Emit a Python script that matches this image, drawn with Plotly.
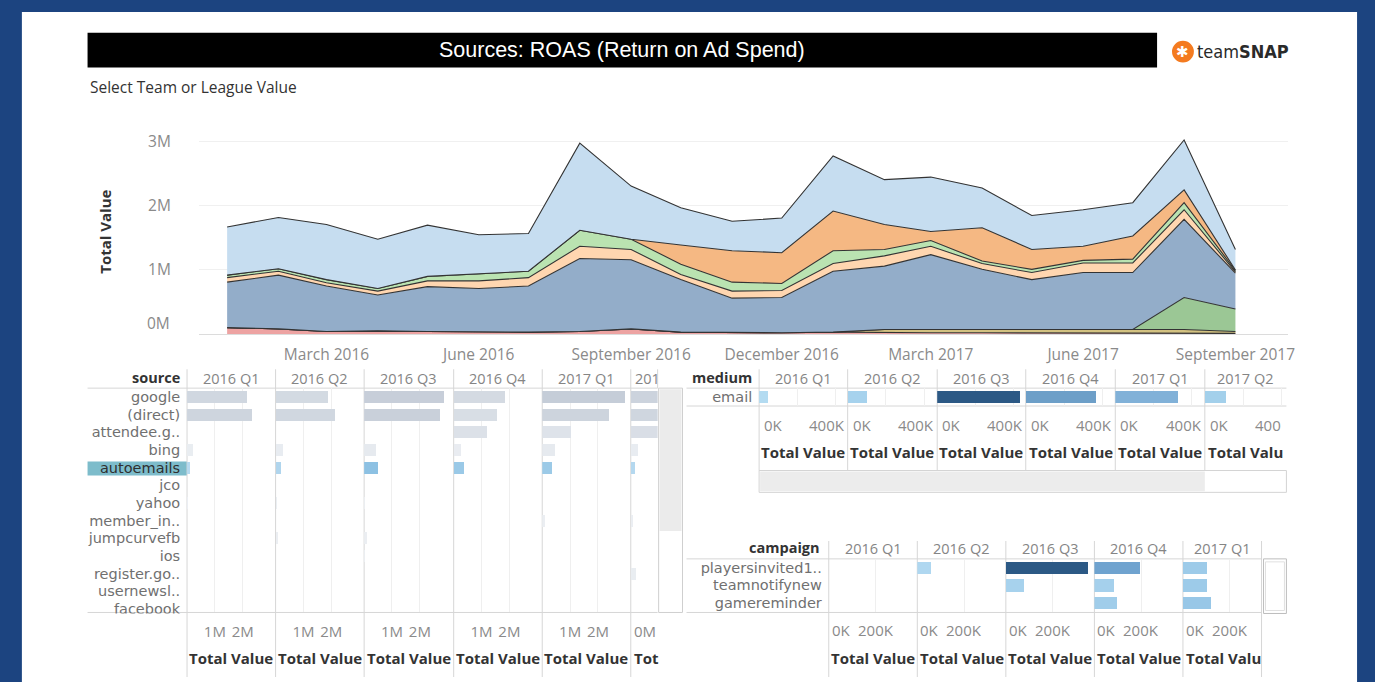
import plotly.graph_objects as go

W, H = 1375, 682
FONT = "Open Sans, Lato, DejaVu Sans, sans-serif"
LFONT = "DejaVu Sans, Open Sans, sans-serif"

def fx(px):
    return px / W

def fy(py):
    return 1 - py / H

# ---------------- main area chart data (values in millions) ----------------
months = ["2016-01-01", "2016-02-01", "2016-03-01", "2016-04-01", "2016-05-01", "2016-06-01",
          "2016-07-01", "2016-08-01", "2016-09-01", "2016-10-01", "2016-11-01", "2016-12-01",
          "2017-01-01", "2017-02-01", "2017-03-01", "2017-04-01", "2017-05-01", "2017-06-01",
          "2017-07-01", "2017-08-01", "2017-09-01"]
val_pink = [0.10, 0.08, 0.04, 0.05, 0.04, 0.03, 0.03, 0.04, 0.08, 0.03, 0.02, 0.02, 0.03,
            0.02, 0.02, 0.02, 0.02, 0.02, 0.02, 0.01, 0.01]
val_olive = [0, 0, 0, 0, 0, 0, 0, 0, 0, 0, 0, 0, 0,
             0.05, 0.05, 0.05, 0.04, 0.04, 0.04, 0.06, 0.03]
val_green = [0, 0, 0, 0, 0, 0, 0, 0, 0, 0, 0, 0, 0,
             0, 0, 0, 0, 0, 0.01, 0.50, 0.35]
val_steel = [0.71, 0.84, 0.71, 0.56, 0.70, 0.68, 0.72, 1.14, 1.08, 0.82, 0.54, 0.55, 0.95,
             0.99, 1.17, 0.94, 0.79, 0.90, 0.89, 1.22, 0.56]
val_peach = [0.07, 0.06, 0.05, 0.06, 0.09, 0.12, 0.13, 0.19, 0.16, 0.08, 0.11, 0.11, 0.12,
             0.16, 0.13, 0.09, 0.11, 0.15, 0.15, 0.15, 0.02]
val_lgreen = [0.04, 0.04, 0.05, 0.04, 0.07, 0.11, 0.10, 0.25, 0.16, 0.16, 0.14, 0.11, 0.20,
              0.10, 0.09, 0.04, 0.05, 0.04, 0.06, 0.11, 0.02]
val_orange = [0, 0, 0, 0, 0, 0, 0, 0, 0, 0.30, 0.49, 0.48, 0.62,
              0.39, 0.14, 0.52, 0.31, 0.22, 0.36, 0.20, 0.01]
val_lblue = [0.75, 0.80, 0.86, 0.77, 0.80, 0.61, 0.59, 1.36, 0.83, 0.58, 0.46, 0.54, 0.86,
             0.70, 0.85, 0.62, 0.53, 0.57, 0.52, 0.78, 0.32]

date_ticks = ["2016-03-01", "2016-06-01", "2016-09-01", "2016-12-01",
              "2017-03-01", "2017-06-01", "2017-09-01"]
date_labels = ["March 2016", "June 2016", "September 2016", "December 2016",
               "March 2017", "June 2017", "September 2017"]

# ---------------- source panel data (millions) ----------------
sources = ["google", "(direct)", "attendee.g..", "bing", "autoemails", "jco", "yahoo",
           "member_in..", "jumpcurvefb", "ios", "register.go..", "usernewsl..", "facebook"]
src_quarters = ["2016 Q1", "2016 Q2", "2016 Q3", "2016 Q4", "2017 Q1", "201"]
src_2016q1 = [2.16, 2.32, 0, 0.20, 0.12, 0, 0.05, 0, 0, 0, 0, 0, 0]
src_2016q2 = [1.89, 2.13, 0, 0.27, 0.18, 0, 0.04, 0, 0.10, 0, 0, 0, 0]
src_2016q3 = [2.87, 2.73, 0, 0.44, 0.50, 0, 0.03, 0, 0.10, 0.03, 0, 0, 0]
src_2016q4 = [1.86, 1.54, 1.20, 0.26, 0.38, 0, 0, 0, 0, 0, 0, 0, 0]
src_2017q1 = [2.98, 2.39, 1.05, 0.45, 0.36, 0, 0, 0.10, 0, 0, 0, 0, 0]
src_2017q2 = [2.50, 2.20, 1.50, 0.27, 0.14, 0, 0, 0.08, 0, 0, 0.20, 0, 0]
src_values = [src_2016q1, src_2016q2, src_2016q3, src_2016q4, src_2017q1, src_2017q2]
selected_source = "autoemails"

# ---------------- medium panel data (thousands) ----------------
mediums = ["email"]
med_quarters = ["2016 Q1", "2016 Q2", "2016 Q3", "2016 Q4", "2017 Q1", "2017 Q2"]
med_email = [49, 101, 431, 366, 325, 113]

# ---------------- campaign panel data (thousands) ----------------
campaigns = ["playersinvited1..", "teamnotifynew", "gamereminder"]
camp_quarters = ["2016 Q1", "2016 Q2", "2016 Q3", "2016 Q4", "2017 Q1"]
camp_players = [0, 57, 353, 196, 104]
camp_team = [0, 0, 77, 83, 104]
camp_game = [0, 0, 0, 96, 118]

# ---------------- helpers ----------------
shapes = []
annotations = []
layout_axes = {}
fig = go.Figure()

LBL = 14.5    # row label size
HDR = 14.5    # quarter header size
TV = 15       # "Total Value" size
TICK = 15


def rect(x0, y0, x1, y1, fill=None, line=None, lw=1, layer="below"):
    shapes.append(dict(type="rect", xref="paper", yref="paper",
                       x0=fx(x0), x1=fx(x1), y0=fy(y1), y1=fy(y0),
                       fillcolor=fill if fill else "rgba(0,0,0,0)",
                       line=dict(color=line if line else "rgba(0,0,0,0)", width=lw if line else 0),
                       layer=layer))


def hline(x0, x1, y, color="#d6d6d6"):
    shapes.append(dict(type="line", xref="paper", yref="paper", x0=fx(x0), x1=fx(x1),
                       y0=fy(y), y1=fy(y), line=dict(color=color, width=1), layer="below"))


def vline(x, y0, y1, color="#d6d6d6"):
    shapes.append(dict(type="line", xref="paper", yref="paper", x0=fx(x), x1=fx(x),
                       y0=fy(y0), y1=fy(y1), line=dict(color=color, width=1), layer="below"))


def text(x, y, s, size=15, color="#777777", anchor="center", family=FONT, angle=0):
    annotations.append(dict(xref="paper", yref="paper", x=fx(x), y=fy(y), text=s,
                            showarrow=False, xanchor=anchor, yanchor="middle", textangle=angle,
                            font=dict(size=size, color=color, family=family)))


# ---------------- background / header ----------------
rect(22, 12, 1364, 690, fill="white")
rect(88, 33, 1163, 68, fill="black")
text(625, 50, "Sources: ROAS (Return on Ad Spend)", size=21.5, color="white",
     family="Liberation Sans, Arial, sans-serif")
shapes.append(dict(type="circle", xref="paper", yref="paper", x0=fx(1178), x1=fx(1200),
                   y0=fy(63), y1=fy(41), fillcolor="#f47b20", line=dict(width=0), layer="above"))
text(1189, 52, "<b>✱</b>", size=15, color="white", family="DejaVu Sans")
text(1201, 52, "team<b>SNAP</b>", size=18, color="#2a2a2a", anchor="left",
     family="DejaVu Sans Condensed, Liberation Sans Narrow, Liberation Sans, sans-serif")
text(88, 88, "Select Team or League Value", size=15.5, color="#333333", anchor="left")

# ---------------- main area chart ----------------
area_layers = [
    ("jumpcurvefb", val_pink, "#eda3a2"),
    ("register.go..", val_olive, "#d3c281"),
    ("member_in..", val_green, "#9bc795"),
    ("(direct)", val_steel, "#93adc9"),
    ("bing", val_peach, "#ffd6b0"),
    ("autoemails", val_lgreen, "#bae3b1"),
    ("attendee.g..", val_orange, "#f5b883"),
    ("google", val_lblue, "#c6ddf0"),
]
for name, vals, col in area_layers:
    fig.add_trace(go.Scatter(x=months, y=vals, name=name, stackgroup="one", mode="lines",
                             line=dict(color="#333333", width=1.1), fillcolor=col,
                             xaxis="x", yaxis="y", showlegend=False))

layout_axes["xaxis"] = dict(domain=[fx(200), fx(1295)], anchor="y", type="date",
                            range=["2015-12-15", "2017-10-03"], tickmode="array",
                            tickvals=date_ticks, ticktext=date_labels, showgrid=False,
                            ticks="outside", ticklen=6, tickcolor="rgba(0,0,0,0)",
                            tickfont=dict(size=15.5, color="#8a8a8a", family=FONT),
                            showline=True, linecolor="#dcdcdc", zeroline=False)
layout_axes["yaxis"] = dict(domain=[fy(336.5), fy(130)], anchor="x", range=[0, 3.2],
                            tickmode="array", tickvals=[1, 2, 3], ticktext=["1M", "2M", "3M"],
                            showgrid=True, gridcolor="#f0f0f0", zeroline=False,
                            ticks="outside", ticklen=24, tickcolor="rgba(0,0,0,0)",
                            tickfont=dict(size=15.5, color="#8a8a8a", family=FONT))
annotations.append(dict(xref="paper", yref="y", x=fx(173), y=0, yshift=11, text="0M",
                        showarrow=False, xanchor="right", yanchor="middle",
                        font=dict(size=15.5, color="#8a8a8a", family=FONT)))
text(106, 233, "<b>Total Value</b>", size=15, color="#333333", angle=-90)

# ---------------- source panel ----------------
SRC_TOP, SRC_HEAD, SRC_BOT = 372, 391, 617
src_edges = [188, 277, 366, 456, 545, 634, 661]
SRC_PX_PER_M = 28.0
row_h = 17.8
rect(88, 465, 188, 479, fill="#7dbccb")
layout_axes["yaxis2"] = dict(domain=[fy(SRC_BOT), fy(SRC_HEAD)], anchor="x2", type="category",
                             categoryorder="array", categoryarray=sources,
                             range=[(SRC_BOT - SRC_HEAD) / row_h - 0.5, -0.5],
                             tickmode="array", tickvals=sources,
                             ticktext=[('<span style="color:#2f2f2f">%s</span>' % s) if s == selected_source else s
                                       for s in sources],
                             ticks="outside", ticklen=3, tickcolor="rgba(0,0,0,0)",
                             tickfont=dict(size=LBL, color="#707070", family=LFONT),
                             showgrid=False, zeroline=False, showline=False)
for k in range(6):
    xid = 2 + k
    x0, x1 = src_edges[k], src_edges[k + 1]
    vals = src_values[k]
    others_y = [s for s in sources if s != selected_source]
    others_x = [v for s, v in zip(sources, vals) if s != selected_source]
    sel_x = [v for s, v in zip(sources, vals) if s == selected_source]
    fig.add_trace(go.Bar(orientation="h", y=others_y, x=others_x, width=0.68,
                         marker=dict(color=others_x, cmin=0, cmax=3,
                                     colorscale=[[0, "#eceff3"], [1, "#c5cdd8"]], line=dict(width=0)),
                         xaxis="x%d" % xid, yaxis="y2", showlegend=False))
    fig.add_trace(go.Bar(orientation="h", y=[selected_source], x=sel_x, width=0.68,
                         marker=dict(color=sel_x, cmin=0, cmax=0.5,
                                     colorscale=[[0, "#c3e1f3"], [1, "#8dc1e3"]], line=dict(width=0)),
                         xaxis="x%d" % xid, yaxis="y2", showlegend=False))
    last = (k == 5)
    layout_axes["xaxis%d" % xid] = dict(domain=[fx(x0), fx(x1)], anchor="y2",
                                        range=[0, (x1 - x0) / SRC_PX_PER_M],
                                        tickmode="array", tickvals=[] if last else [1, 2],
                                        ticktext=[] if last else ["1M", "2M"],
                                        showgrid=True, gridcolor="#efefef", zeroline=False,
                                        ticks="outside", ticklen=6, tickcolor="rgba(0,0,0,0)",
                                        tickfont=dict(size=TICK, color="#8a8a8a", family=FONT))
    if last:
        text(x0 + 2, 381, src_quarters[k], size=HDR, color="#858585", anchor="left")
        text(x0 + 1, 636, "0M", size=TICK, color="#8a8a8a", anchor="left")
        text(x0 + 1, 663, "<b>Tot</b>", size=TV, color="#333333", anchor="left")
    else:
        text((x0 + x1) / 2, 381, src_quarters[k], size=HDR, color="#858585")
        text((x0 + x1) / 2, 663, "<b>Total Value</b>", size=TV, color="#333333")
    vline(x0, SRC_TOP, 682)
vline(661, SRC_TOP, SRC_HEAD)
hline(88, 661, SRC_HEAD)
hline(88, 661, SRC_BOT)
text(183, 380, "<b>source</b>", size=14.5, color="#333333", anchor="right")
# mask to clip the last row label like the reference
rect(86, 618, 187, 628, fill="white", layer="above")
# scrollbar
rect(662, 391, 686, 617, fill="white", line="#cfcfcf")
rect(663, 392, 685, 535, fill="#ebebeb")

# ---------------- medium panel ----------------
MED_TOP, MED_HEAD, MED_BOT = 372, 391, 409
med_edges = [763, 852, 942, 1031, 1121, 1211, 1293]
MED_PX_PER_K = 0.1925
layout_axes["yaxis3"] = dict(domain=[fy(MED_BOT), fy(MED_HEAD)], anchor="x8", type="category",
                             categoryorder="array", categoryarray=mediums, range=[0.5, -0.5],
                             tickmode="array", tickvals=mediums,
                             ticks="outside", ticklen=3, tickcolor="rgba(0,0,0,0)",
                             tickfont=dict(size=LBL, color="#707070", family=LFONT),
                             showgrid=False, zeroline=False)
for k in range(6):
    xid = 8 + k
    x0, x1 = med_edges[k], med_edges[k + 1]
    fig.add_trace(go.Bar(orientation="h", y=mediums, x=[med_email[k]], width=0.7,
                         marker=dict(color=[med_email[k]], cmin=40, cmax=431,
                                     colorscale=[[0, "#b5dcf2"], [0.2, "#a2cfeb"], [0.7, "#86b6dc"],
                                                 [0.85, "#6a9cc6"], [1, "#2c5985"]],
                                     line=dict(width=0)),
                         xaxis="x%d" % xid, yaxis="y3", showlegend=False))
    layout_axes["xaxis%d" % xid] = dict(domain=[fx(x0), fx(x1)], anchor="y3",
                                        range=[0, (x1 - x0) / MED_PX_PER_K],
                                        tickmode="array", tickvals=[200, 400], showticklabels=False,
                                        showgrid=True, gridcolor="#efefef", zeroline=False)
    text(x0 + 3, 428, "0K", size=TICK, color="#8a8a8a", anchor="left")
    if k == 5:
        text(x0 + 48, 428, "400", size=TICK, color="#8a8a8a", anchor="left")
        text(x0 + 1, 455, "<b>Total Valu</b>", size=TV, color="#333333", anchor="left")
    else:
        text(x1 - 1, 428, "400K", size=TICK, color="#8a8a8a", anchor="right")
        text((x0 + x1) / 2, 455, "<b>Total Value</b>", size=TV, color="#333333")
    text((x0 + x1) / 2, 381, med_quarters[k], size=HDR, color="#858585")
    vline(x0, MED_TOP, 474)
hline(690, 1293, MED_HEAD)
hline(690, 1293, MED_BOT)
text(758, 380, "<b>medium</b>", size=14.5, color="#333333", anchor="right")
rect(763, 474, 1293, 496, fill="white", line="#d4d4d4")
rect(764, 475, 1211, 495, fill="#ececec")

# ---------------- campaign panel ----------------
CMP_TOP, CMP_HEAD, CMP_BOT = 545, 563, 617
cmp_edges = [833, 922, 1011, 1100, 1189, 1268]
CMP_PX_PER_K = 0.235
layout_axes["yaxis4"] = dict(domain=[fy(CMP_BOT), fy(CMP_HEAD)], anchor="x14", type="category",
                             categoryorder="array", categoryarray=campaigns,
                             range=[(CMP_BOT - CMP_HEAD) / row_h - 0.5, -0.5],
                             tickmode="array", tickvals=campaigns,
                             ticks="outside", ticklen=3, tickcolor="rgba(0,0,0,0)",
                             tickfont=dict(size=LBL, color="#707070", family=LFONT),
                             showgrid=False, zeroline=False)
for k in range(5):
    xid = 14 + k
    x0, x1 = cmp_edges[k], cmp_edges[k + 1]
    vals = [camp_players[k], camp_team[k], camp_game[k]]
    fig.add_trace(go.Bar(orientation="h", y=campaigns, x=vals, width=0.7,
                         marker=dict(color=vals, cmin=40, cmax=353,
                                     colorscale=[[0, "#b5dcf2"], [0.25, "#98c7e7"], [0.5, "#6fa3cf"],
                                                 [1, "#2c5985"]],
                                     line=dict(width=0)),
                         xaxis="x%d" % xid, yaxis="y4", showlegend=False))
    layout_axes["xaxis%d" % xid] = dict(domain=[fx(x0), fx(x1)], anchor="y4",
                                        range=[0, (x1 - x0) / CMP_PX_PER_K],
                                        tickmode="array", tickvals=[200], showticklabels=False,
                                        showgrid=True, gridcolor="#efefef", zeroline=False)
    annotations.append(dict(xref="x%d" % xid, yref="paper", x=0, y=fy(635), text="0K",
                            showarrow=False, xanchor="left", yanchor="middle", xshift=1,
                            font=dict(size=TICK, color="#8a8a8a", family=FONT)))
    annotations.append(dict(xref="x%d" % xid, yref="paper", x=200, y=fy(635), text="200K",
                            showarrow=False, xanchor="center", yanchor="middle",
                            font=dict(size=TICK, color="#8a8a8a", family=FONT)))
    if k == 4:
        text(x0 + 1, 663, "<b>Total Valu</b>", size=TV, color="#333333", anchor="left")
    else:
        text((x0 + x1) / 2, 663, "<b>Total Value</b>", size=TV, color="#333333")
    text((x0 + x1) / 2, 553, camp_quarters[k], size=HDR, color="#858585")
    vline(x0, CMP_TOP, 682)
vline(1268, CMP_TOP, 682)
hline(690, 1268, CMP_HEAD)
hline(690, 1268, CMP_BOT)
text(826, 552, "<b>campaign</b>", size=14.5, color="#333333", anchor="right")
rect(1270, 563, 1293, 618, fill="white", line="#bdbdbd")
rect(1272, 566, 1291, 615, fill="white", line="#e0e0e0")

fig.update_layout(
    width=W, height=H, margin=dict(l=0, r=0, t=0, b=0),
    paper_bgcolor="#1c4480", plot_bgcolor="rgba(0,0,0,0)",
    showlegend=False, bargap=0, shapes=shapes, annotations=annotations,
    font=dict(family=FONT), hovermode=False,
    **layout_axes,
)
fig.write_html("out.html", config={"displayModeBar": False, "staticPlot": True},
               post_script="document.body.style.margin='0';document.body.style.padding='0';"
                           "document.body.style.overflow='hidden';")
